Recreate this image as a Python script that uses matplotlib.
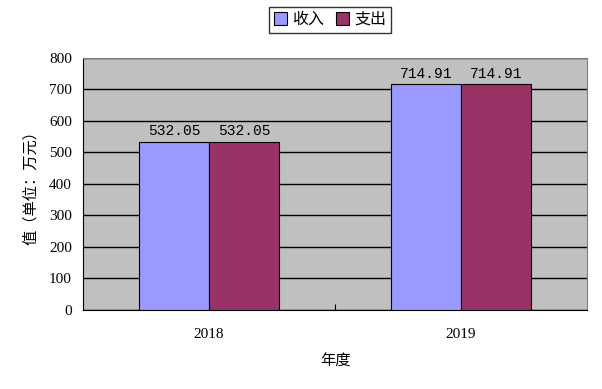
import numpy as np
import matplotlib
matplotlib.use("Agg")
import matplotlib.pyplot as plt

plt.rcParams['font.family'] = ['Liberation Serif', 'Noto Sans CJK SC', 'DejaVu Sans']

years = ["2018", "2019"]
income = [532.05, 714.91]
expense = [532.05, 714.91]
series_names = ["收入", "支出"]
yticks = [0, 100, 200, 300, 400, 500, 600, 700, 800]

fig = plt.figure(figsize=(6.02, 3.89), dpi=100)
ax = fig.add_axes([0.1379, 0.2031, 0.9751 - 0.1379, 0.852 - 0.2031])
ax.set_facecolor("#C0C0C0")

x = np.arange(len(years))
w = 0.278
b1 = ax.bar(x - w / 2, income, w, color="#9999FF", edgecolor="black", linewidth=0.8,
            label=series_names[0], zorder=3)
b2 = ax.bar(x + w / 2, expense, w, color="#993366", edgecolor="black", linewidth=0.8,
            label=series_names[1], zorder=3)

for bars in (b1, b2):
    for r in bars:
        ax.text(r.get_x() + r.get_width() / 2, r.get_height() + 12, f"{r.get_height():.2f}",
                ha="center", va="bottom", fontsize=10.5, family="Liberation Mono", zorder=4)

ax.set_xlim(-0.5, 1.5)
ax.set_ylim(0, 800)
ax.set_yticks(yticks)
ax.yaxis.grid(True, color="black", linewidth=1, zorder=1)
ax.set_axisbelow(True)

ax.set_xticks([0.5], minor=False)
ax.set_xticklabels([""])
ax.set_xticks(x, minor=True)
ax.set_xticklabels(years, minor=True)
ax.tick_params(axis="x", which="major", direction="in", length=4, color="black")
ax.tick_params(axis="x", which="minor", length=0, pad=13, labelsize=11)
ax.tick_params(axis="y", length=0, pad=8, labelsize=11)

for s in ("top", "right"):
    ax.spines[s].set_color("#808080")
for s in ("left", "bottom"):
    ax.spines[s].set_color("black")

ax.set_xlabel("年度", fontsize=11, labelpad=10)
ax.set_ylabel("值（单位：万元）", fontsize=11, labelpad=8)

fig.legend(loc="center", bbox_to_anchor=(330 / 602, 1 - 20 / 389), ncol=2, frameon=True,
           fancybox=False, edgecolor="black", fontsize=11.5, handlelength=0.8,
           handleheight=0.8, handletextpad=0.3, columnspacing=0.8, borderpad=0.3)

fig.savefig("out.png", dpi=100)
